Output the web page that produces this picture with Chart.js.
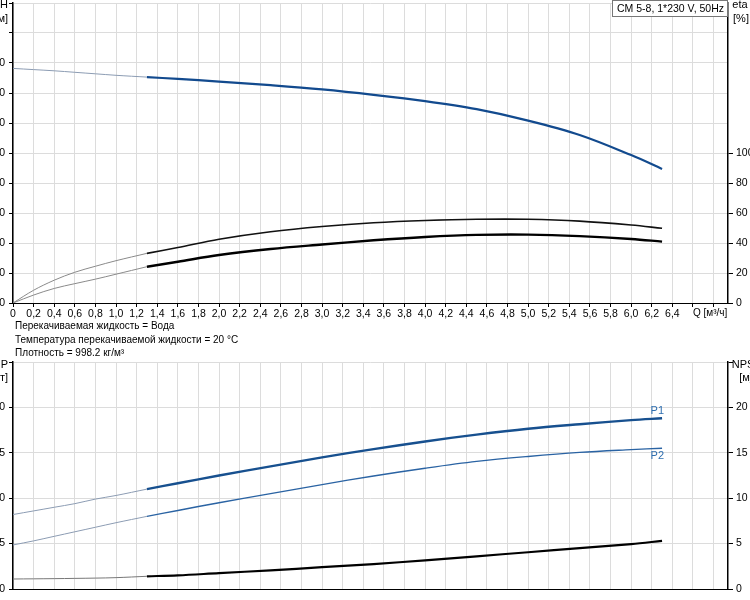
<!DOCTYPE html>
<html>
<head>
<meta charset="utf-8">
<script src="https://cdn.jsdelivr.net/npm/chart.js@4/dist/chart.umd.min.js"></script>
<style>
  body { margin:0; background:#fff; width:750px; height:600px; overflow:hidden; position:relative; font-family:"Liberation Sans", Arial, sans-serif; }
  #top { position:absolute; left:0; top:0; width:750px; height:320px; }
  #bottom { position:absolute; left:0; top:350px; width:750px; height:250px; }
  #info { position:absolute; left:15px; top:319px; font-size:10px; line-height:13.5px; color:#000; z-index:2; }
</style>
</head>
<body>
<div id="top"><canvas id="c1" width="750" height="320"></canvas></div>
<div id="info">
  <div>Перекачиваемая жидкость = Вода</div>
  <div>Температура перекачиваемой жидкости = 20 °C</div>
  <div>Плотность = 998.2 кг/м³</div>
</div>
<div id="bottom"><canvas id="c2" width="750" height="250"></canvas></div>
<script>
// flow points, m3/h (curves are thin up to 1.3, thick after)
var q     = [0, 0.2, 0.4, 0.6, 0.8, 1.0, 1.3, 1.6, 2.0, 2.5, 3.0, 3.5, 4.0, 4.5, 5.0, 5.5, 6.0, 6.3];
var head  = [78.2, 77.8, 77.4, 76.9, 76.4, 75.9, 75.3, 74.7, 73.8, 72.6, 71.2, 69.4, 67.3, 64.6, 60.8, 56.0, 49.3, 44.7];
var etaP  = [0, 8.5, 15.2, 20.5, 24.5, 28.2, 33.1, 37, 42.5, 47.5, 51, 53.5, 55, 55.8, 55.8, 54.6, 52.0, 49.8];
var etaT  = [0, 5.3, 9.7, 12.9, 15.9, 19.2, 24.2, 27.5, 32, 36, 39, 41.8, 44, 45.4, 45.6, 44.6, 42.7, 40.9];
var p1    = [0.82, 0.86, 0.90, 0.94, 0.99, 1.03, 1.10, 1.165, 1.25, 1.35, 1.45, 1.54, 1.625, 1.70, 1.765, 1.815, 1.86, 1.88];
var p2    = [0.485, 0.53, 0.58, 0.63, 0.68, 0.73, 0.80, 0.865, 0.95, 1.05, 1.15, 1.245, 1.33, 1.405, 1.46, 1.505, 1.535, 1.55];
var npsh  = [1.1, 1.12, 1.14, 1.17, 1.2, 1.25, 1.4, 1.5, 1.75, 2.05, 2.4, 2.75, 3.15, 3.6, 4.05, 4.5, 4.95, 5.3];
var split = 6;

var qTicks = [];
for (var i = 0; i <= 34; i++) qTicks.push(Math.round(i * 2) / 10);
var qLabelMax = 6.4;
var etaTicks = [0, 20, 40, 60, 80, 100];

var FONT = { family: "'Liberation Sans', Arial, sans-serif", size: 10.5 };

function pts(ys, from, to) {
  return q.slice(from, to).map(function (x, i) { return { x: x, y: ys[from + i] }; });
}

function curve(ys, axis, thinColor, thickColor, thickWidth) {
  var base = { showLine: true, pointRadius: 0, tension: 0.35, yAxisID: axis, fill: false };
  return [
    Object.assign({}, base, { data: pts(ys, 0, split + 1), borderColor: thinColor, borderWidth: 1 }),
    Object.assign({}, base, { data: pts(ys, split, q.length), borderColor: thickColor, borderWidth: thickWidth })
  ];
}

function fixSize(prop, size) {
  return function (a) {
    a[prop] = size;
    a.paddingTop = 0; a.paddingBottom = 0; a.paddingLeft = 0; a.paddingRight = 0;
  };
}

function commaNum(v, dec) {
  if (v === 0) return '0';
  return v.toFixed(dec).replace('.', ',');
}

function xScale(showLabels, h) {
  return {
    type: 'linear', min: 0, max: 6.94,
    afterBuildTicks: function (a) { a.ticks = qTicks.map(function (v) { return { value: v }; }); },
    ticks: {
      display: showLabels, autoSkip: false, maxRotation: 0, padding: 1, color: '#000', font: FONT,
      callback: function (v) { return v > qLabelMax + 0.01 ? '' : commaNum(v, 1); }
    },
    grid: { color: '#dcdcdc', tickColor: '#000', tickLength: 4, drawTicks: showLabels },
    border: { color: '#000', width: 1 },
    afterFit: fixSize('height', h)
  };
}

function drawText(ctx, txt, x, y, align, color) {
  ctx.fillStyle = color || '#000';
  ctx.textAlign = align;
  ctx.textBaseline = 'middle';
  ctx.fillText(txt, x, y);
}

var topLabels = {
  id: 'topLabels',
  afterDraw: function (chart) {
    var ctx = chart.ctx;
    ctx.save();
    ctx.font = "11px 'Liberation Sans', Arial, sans-serif";
    drawText(ctx, 'H', 8, 5, 'right');
    drawText(ctx, '[м]', 8, 19, 'right');
    drawText(ctx, 'eta', 740, 5, 'center');
    drawText(ctx, '[%]', 741, 19, 'center');
    ctx.font = "10px 'Liberation Sans', Arial, sans-serif";
    drawText(ctx, 'Q [м³/ч]', 693, 313, 'left');
    var t = 'CM 5-8, 1*230 V, 50Hz';
    ctx.font = "10.5px 'Liberation Sans', Arial, sans-serif";
    var w = ctx.measureText(t).width;
    var right = chart.chartArea.right;
    ctx.fillStyle = '#fff';
    ctx.fillRect(right - w - 9, 0, w + 9, 17);
    ctx.strokeStyle = '#777';
    ctx.lineWidth = 1;
    ctx.strokeRect(right - w - 8.5, 0.5, w + 8, 16);
    drawText(ctx, t, right - 4, 9, 'right');
    ctx.restore();
  }
};

var bottomLabels = {
  id: 'bottomLabels',
  afterDraw: function (chart) {
    var ctx = chart.ctx;
    var x = chart.scales.x, y = chart.scales.y;
    var last = q.length - 1;
    ctx.save();
    ctx.font = "11px 'Liberation Sans', Arial, sans-serif";
    drawText(ctx, 'P', 8, 15, 'right');
    drawText(ctx, '[кВт]', 8, 28, 'right');
    drawText(ctx, 'NPSH', 747, 15, 'center');
    drawText(ctx, '[м]', 746, 28, 'center');
    drawText(ctx, 'P1', x.getPixelForValue(q[last]) + 2, y.getPixelForValue(p1[last]) - 7, 'right', '#2f6fb0');
    drawText(ctx, 'P2', x.getPixelForValue(q[last]) + 2, y.getPixelForValue(p2[last]) + 8, 'right', '#2f6fb0');
    ctx.restore();
  }
};

new Chart(document.getElementById('c1'), {
  type: 'scatter',
  data: {
    datasets: [].concat(
      curve(head, 'y', '#8c9cb3', '#124a8e', 2.2),
      curve(etaP, 'eta', '#8a8a8a', '#111', 1.6),
      curve(etaT, 'eta', '#8a8a8a', '#000', 2.4)
    )
  },
  options: {
    responsive: false, animation: false, events: [],
    layout: { padding: { top: 3, left: 0, right: 0, bottom: 0 } },
    plugins: { legend: { display: false }, tooltip: { enabled: false } },
    scales: {
      x: xScale(true, 17),
      y: {
        position: 'left', min: 0, max: 100,
        ticks: { stepSize: 10, padding: 4, color: '#000', font: FONT, callback: function (v) { return v > 80 ? '' : v; } },
        grid: { color: '#dcdcdc', tickColor: '#000', tickLength: 4 },
        border: { color: '#000', width: 1.5 },
        afterFit: fixSize('width', 13)
      },
      eta: {
        position: 'right', min: 0, max: 200,
        afterBuildTicks: function (a) { a.ticks = etaTicks.map(function (v) { return { value: v }; }); },
        ticks: { padding: 3, color: '#000', font: FONT },
        grid: { drawOnChartArea: false, tickColor: '#000', tickLength: 5 },
        border: { color: '#000', width: 1.5 },
        afterFit: fixSize('width', 22)
      }
    }
  },
  plugins: [topLabels]
});

new Chart(document.getElementById('c2'), {
  type: 'scatter',
  data: {
    datasets: [].concat(
      curve(p1, 'y', '#8c9cb3', '#17508f', 2.4),
      curve(p2, 'y', '#8c9cb3', '#2a63a3', 1.4),
      curve(npsh, 'npsh', '#777', '#000', 2.2)
    )
  },
  options: {
    responsive: false, animation: false, events: [],
    layout: { padding: { top: 12, left: 0, right: 0, bottom: 0 } },
    plugins: { legend: { display: false }, tooltip: { enabled: false } },
    scales: {
      x: xScale(false, 11),
      y: {
        position: 'left', min: 0, max: 2.5,
        ticks: { stepSize: 0.5, padding: 4, color: '#000', font: FONT, callback: function (v) { return v > 2.01 ? '' : commaNum(v, 1); } },
        grid: { color: '#dcdcdc', tickColor: '#000', tickLength: 4 },
        border: { color: '#000', width: 1.5 },
        afterFit: fixSize('width', 13)
      },
      npsh: {
        position: 'right', min: 0, max: 25,
        ticks: { stepSize: 5, padding: 3, color: '#000', font: FONT, callback: function (v) { return v > 20 ? '' : v; } },
        grid: { drawOnChartArea: false, tickColor: '#000', tickLength: 5 },
        border: { color: '#000', width: 1.5 },
        afterFit: fixSize('width', 22)
      }
    }
  },
  plugins: [bottomLabels]
});
</script>
</body>
</html>
